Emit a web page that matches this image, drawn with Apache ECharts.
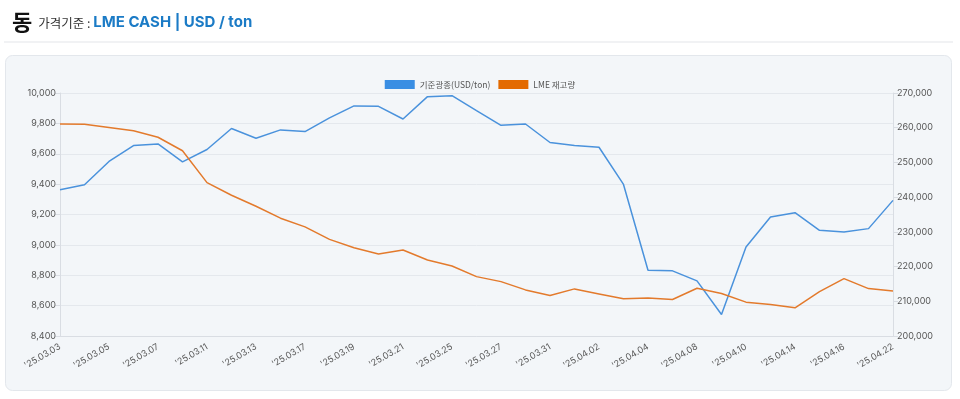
<!DOCTYPE html>
<html><head><meta charset="utf-8">
<script src="https://cdn.jsdelivr.net/npm/echarts@6/dist/echarts.min.js"></script>
<style>html,body{margin:0;padding:0;background:#fff;}#c{width:960px;height:399px;}</style>
</head><body><div id="c"></div>
<script>
const categories = ["'25.03.03","'25.03.04","'25.03.05","'25.03.06","'25.03.07","'25.03.10","'25.03.11","'25.03.12","'25.03.13","'25.03.14","'25.03.17","'25.03.18","'25.03.19","'25.03.20","'25.03.21","'25.03.24","'25.03.25","'25.03.26","'25.03.27","'25.03.28","'25.03.31","'25.04.01","'25.04.02","'25.04.03","'25.04.04","'25.04.07","'25.04.08","'25.04.09","'25.04.10","'25.04.11","'25.04.14","'25.04.15","'25.04.16","'25.04.17","'25.04.22"];
const priceValues = [9363,9396,9549,9654,9665,9547,9628,9766,9702,9757,9746,9836,9915,9912,9829,9976,9982,9884,9787,9796,9674,9654,9643,9398,8833,8829,8763,8542,8986,9183,9212,9096,9085,9107,9293];
const stockValues = [261100,261000,260050,259100,257260,253360,244180,240540,237380,233940,231440,227830,225420,223610,224760,221890,220170,217100,215660,213280,211650,213570,212130,210700,210980,210500,213770,212220,209750,209060,208120,212790,216520,213650,212990];
const seriesNames = ["기준광종(USD/ton)", "LME 재고량"];
const leftTicks = {min: 8400, max: 10000, interval: 200};
const rightTicks = {min: 200000, max: 270000, interval: 10000};

const fmt = v => v.toLocaleString('en-US');
const chart = echarts.init(document.getElementById('c'), null, {renderer: 'canvas'});
const fontFam = '"Noto Sans CJK KR", "Noto Sans", sans-serif';
const numFam = 'Inter, "Noto Sans", sans-serif';
chart.setOption({
  backgroundColor: '#ffffff',
  animation: false,
  textStyle: {fontFamily: fontFam},
  graphic: [
    {type: 'rect', shape: {x: 4, y: 41.5, width: 949, height: 1}, style: {fill: '#e4e6ea'}, z: -10},
    {type: 'rect', shape: {x: 5.5, y: 55.5, width: 946, height: 335, r: 7}, style: {fill: '#f3f6f9', stroke: '#e3e7ec', lineWidth: 1}, z: -10}
  ],
  title: {
    left: 7, top: 6,
    text: '{a|동}{b|가격기준 : }{c|LME CASH | USD / ton}',
    textStyle: {
      rich: {
        a: {fontSize: 22, fontWeight: 'bold', color: '#111', fontFamily: fontFam, padding: [0, 6, 0, 0]},
        b: {fontSize: 12.5, fontWeight: 'normal', color: '#333', fontFamily: fontFam, padding: [3, 0, 0, 0]},
        c: {fontSize: 15, fontWeight: 'bold', color: '#1b7bc6', fontFamily: numFam, padding: [1, 0, 0, 0]}
      }
    }
  },
  legend: {
    top: 75, left: 'center',
    itemWidth: 30, itemHeight: 9, itemGap: 8,
    icon: 'rect',
    textStyle: {fontSize: 8.5, color: '#555', fontFamily: fontFam},
    data: seriesNames
  },
  grid: {left: 60, right: 67, top: 93, bottom: 63},
  xAxis: {
    type: 'category', data: categories, boundaryGap: false,
    axisLine: {lineStyle: {color: '#d9dde3'}},
    axisTick: {show: false},
    axisLabel: {interval: 1, rotate: 30, fontSize: 9, color: '#5a5a5a', margin: 10, fontFamily: numFam}
  },
  yAxis: [
    {
      type: 'value', min: leftTicks.min, max: leftTicks.max, interval: leftTicks.interval,
      axisLine: {show: true, lineStyle: {color: '#d9dde3'}},
      axisTick: {show: true, length: 5, lineStyle: {color: '#d9dde3'}},
      splitLine: {lineStyle: {color: '#e4e8ed'}},
      axisLabel: {formatter: fmt, fontSize: 9, color: '#555', margin: 4, fontFamily: numFam}
    },
    {
      type: 'value', min: rightTicks.min, max: rightTicks.max, interval: rightTicks.interval,
      axisLine: {show: true, lineStyle: {color: '#d9dde3'}},
      axisTick: {show: true, length: 5, lineStyle: {color: '#d9dde3'}},
      splitLine: {show: false},
      axisLabel: {formatter: fmt, fontSize: 9, color: '#555', margin: 4, fontFamily: numFam}
    }
  ],
  series: [
    {name: seriesNames[0], type: 'line', yAxisIndex: 0, data: priceValues, showSymbol: false, symbol: 'none',
     itemStyle: {color: '#3a8ee3'}, lineStyle: {color: '#4a92dc', width: 1.5}},
    {name: seriesNames[1], type: 'line', yAxisIndex: 1, data: stockValues, showSymbol: false, symbol: 'none',
     itemStyle: {color: '#e36a00'}, lineStyle: {color: '#e37a2c', width: 1.5}}
  ]
});
</script>
</body></html>
